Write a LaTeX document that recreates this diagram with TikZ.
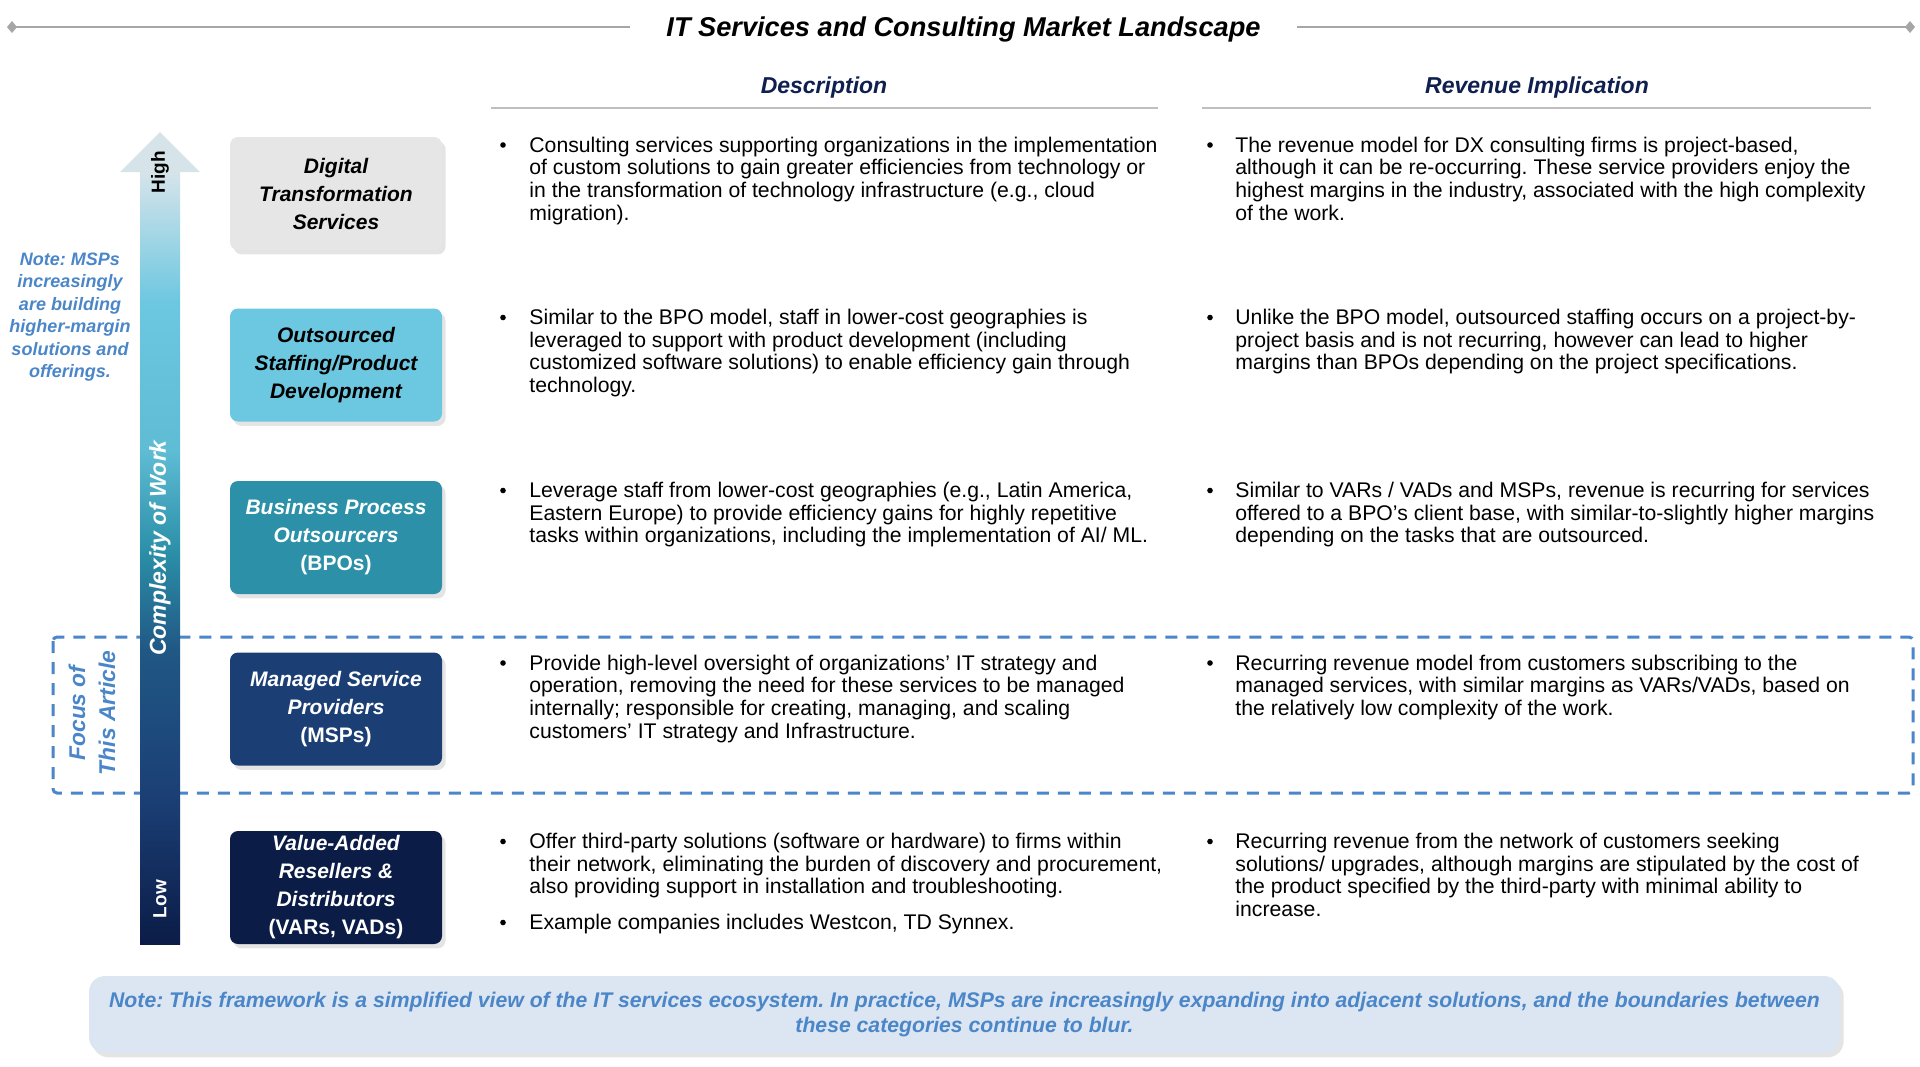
\documentclass[tikz,border=0pt]{standalone}
\usepackage{fontspec}
\setmainfont{Liberation Sans}
\usetikzlibrary{positioning,shadows}
\frenchspacing

\definecolor{navyhead}{HTML}{0F1F4F}
\definecolor{noteblue}{HTML}{4A86C8}
\definecolor{notefill}{HTML}{DCE6F2}
\definecolor{tierA}{HTML}{E6E6E6}
\definecolor{tierB}{HTML}{6CC7E0}
\definecolor{tierC}{HTML}{2B90A8}
\definecolor{tierD}{HTML}{1B3F75}
\definecolor{tierE}{HTML}{0B1C47}
\definecolor{rulegray}{HTML}{A6A6A6}
\definecolor{headpale}{HTML}{D6E4EA}

% complexity axis: pale at the top, navy at the bottom
\pgfdeclareverticalshading{complexity}{100bp}{%
 color(0bp)=(tierE); color(25bp)=(tierE);
 color(34.5bp)=(tierD); color(44bp)=(tierD!70!tierC);
 color(50.5bp)=(tierC); color(57bp)=(tierB!80!tierC);
 color(66.5bp)=(tierB); color(75bp)=(headpale); color(100bp)=(headpale)}

\begin{document}
\begin{tikzpicture}[x=0.5pt,y=-0.5pt,
  tier/.style={rounded corners=4pt, minimum width=106pt, minimum height=56.5pt,
    align=center, inner sep=1pt, font=\fontsize{10.5}{14}\selectfont\bfseries\itshape,
    drop shadow={shadow xshift=1.8pt,shadow yshift=-2.2pt,fill=black!35,opacity=0.3}},
  blurb/.style={anchor=north west, yshift=7.6pt, align=left, inner sep=0pt,
    font=\fontsize{10.6}{11.35}\selectfont, execute at begin node={\rule{0pt}{7.6pt}}},
  colhead/.style={font=\fontsize{11.5}{13}\selectfont\bfseries\itshape, text=navyhead},
  headrule/.style={draw=black!25, line width=1.2pt},
  titlerule/.style={draw=rulegray, line width=0.8pt},
  focus/.style={draw=noteblue, line width=1.5pt, dash pattern=on 6pt off 4.5pt, rounded corners=2pt},
  axislbl/.style={rotate=90, inner sep=0pt},
  notebox/.style={fill=notefill, rounded corners=8pt, minimum width=875.5pt, minimum height=38.5pt,
    align=center, text=noteblue, font=\fontsize{10.6}{12.5}\selectfont\bfseries\itshape,
    drop shadow={shadow xshift=1.8pt,shadow yshift=-2.2pt,fill=black!35,opacity=0.3}}]
\useasboundingbox (0,0) rectangle (1920,1066);

% title with ruled ends
\node[font=\fontsize{13.6}{15}\selectfont\bfseries\itshape, inner xsep=18pt] (title) at (963.5,29)
  {IT Services and Consulting Market Landscape};
\coordinate (tl) at (12,27);
\coordinate (tr) at (1910,27);
\draw[titlerule] (tl) -- (tl -| title.west);
\draw[titlerule] (tr -| title.east) -- (tr);
\fill[rulegray] (tl) +(-5,0) -- +(0,-6) -- +(5,0) -- +(0,6) -- cycle;
\fill[rulegray] (tr) +(-5,0) -- +(0,-6) -- +(5,0) -- +(0,6) -- cycle;

% column heads
\node[colhead] (deschead) at (824,88) {Description};
\node[colhead] (revhead) at (1537,88) {Revenue Implication};
\draw[headrule] (491,108) -- (1158,108);
\draw[headrule] (1202,108) -- (1871,108);

% focus band (behind the axis)
\draw[focus] (53,637) rectangle (1913,793);
\node[axislbl, align=center, text=noteblue, font=\fontsize{11.4}{15}\selectfont\bfseries\itshape]
  (focuslbl) at (92,713) {Focus of\\This Article};

% complexity axis
\fill[headpale] (120,172) -- (160,132) -- (200,172) -- cycle;
\shade[shading=complexity] (140,172) rectangle (180,944);
\node[axislbl, font=\fontsize{9.5}{11}\selectfont\bfseries] (high) at (160,172) {High};
\node[axislbl, text=white, font=\fontsize{11.5}{13}\selectfont\bfseries\itshape] (cxw) at (160,548) {Complexity of Work};
\node[axislbl, text=white, font=\fontsize{9.5}{11}\selectfont\bfseries] (low) at (160,899) {Low};

\node[align=center, text=noteblue, font=\fontsize{9}{11.25}\selectfont\bfseries\itshape] (msnote) at (70,317)
  {Note: MSPs\\increasingly\\are building\\higher-margin\\solutions and\\offerings.};

% tiers
\node[tier, fill=tierA] (dxs) at (336,193.5) {Digital\\Transformation\\Services};
\node[tier, fill=tierB] (staff) at (336,365) {Outsourced\\Staffing/Product\\Development};
\node[tier, fill=tierC, text=white] (bpo) at (336,537.5) {Business Process\\Outsourcers\\{\upshape(BPOs)}};
\node[tier, fill=tierD, text=white] (msp) at (336,709) {Managed Service\\Providers\\{\upshape(MSPs)}};
\node[tier, fill=tierE, text=white] (var) at (336,887.5) {Value-Added\\Resellers \&\\Distributors\\{\upshape(VARs, VADs)}};

% bullets
\foreach \yy in {151.5,324,497,669.5,848,929} {\fill (503,\yy-6.5) circle (1.4pt);}
\foreach \yy in {151.5,324,497,669.5,848} {\fill (1210,\yy-6.5) circle (1.4pt);}

% description column
\node[blurb] (desc1) at (529,151.5) {Consulting services supporting organizations in the implementation\\of custom solutions to gain greater efficiencies from technology or\\in the transformation of technology infrastructure (e.g., cloud\\migration).};
\node[blurb] (desc2) at (529,324) {Similar to the BPO model, staff in lower-cost geographies is\\leveraged to support with product development (including\\customized software solutions) to enable efficiency gain through\\technology.};
\node[blurb] (desc3) at (529,497) {Leverage staff from lower-cost geographies (e.g., Latin America,\\Eastern Europe) to provide efficiency gains for highly repetitive\\tasks within organizations, including the implementation of AI/ ML.};
\node[blurb] (desc4) at (529,669.5) {Provide high-level oversight of organizations’ IT strategy and\\operation, removing the need for these services to be managed\\internally; responsible for creating, managing, and scaling\\customers’ IT strategy and Infrastructure.};
\node[blurb] (desc5) at (529,848) {Offer third-party solutions (software or hardware) to firms within\\their network, eliminating the burden of discovery and procurement,\\also providing support in installation and troubleshooting.};
\node[blurb] (desc5b) at (529,929) {Example companies includes Westcon, TD Synnex.};

% revenue column
\node[blurb] (rev1) at (1235,151.5) {The revenue model for DX consulting firms is project-based,\\although it can be re-occurring. These service providers enjoy the\\highest margins in the industry, associated with the high complexity\\of the work.};
\node[blurb] (rev2) at (1235,324) {Unlike the BPO model, outsourced staffing occurs on a project-by-\\project basis and is not recurring, however can lead to higher\\margins than BPOs depending on the project specifications.};
\node[blurb] (rev3) at (1235,497) {Similar to VARs / VADs and MSPs, revenue is recurring for services\\offered to a BPO’s client base, with similar-to-slightly higher margins\\depending on the tasks that are outsourced.};
\node[blurb] (rev4) at (1235,669.5) {Recurring revenue model from customers subscribing to the\\managed services, with similar margins as VARs/VADs, based on\\the relatively low complexity of the work.};
\node[blurb] (rev5) at (1235,848) {Recurring revenue from the network of customers seeking\\solutions/ upgrades, although margins are stipulated by the cost of\\the product specified by the third-party with minimal ability to\\increase.};

% footer note
\node[notebox] (foot) at (964.5,1014.5) {Note: This framework is a simplified view of the IT services ecosystem. In practice, MSPs are increasingly expanding into adjacent solutions, and the boundaries between\\these categories continue to blur.};
\end{tikzpicture}
\end{document}
